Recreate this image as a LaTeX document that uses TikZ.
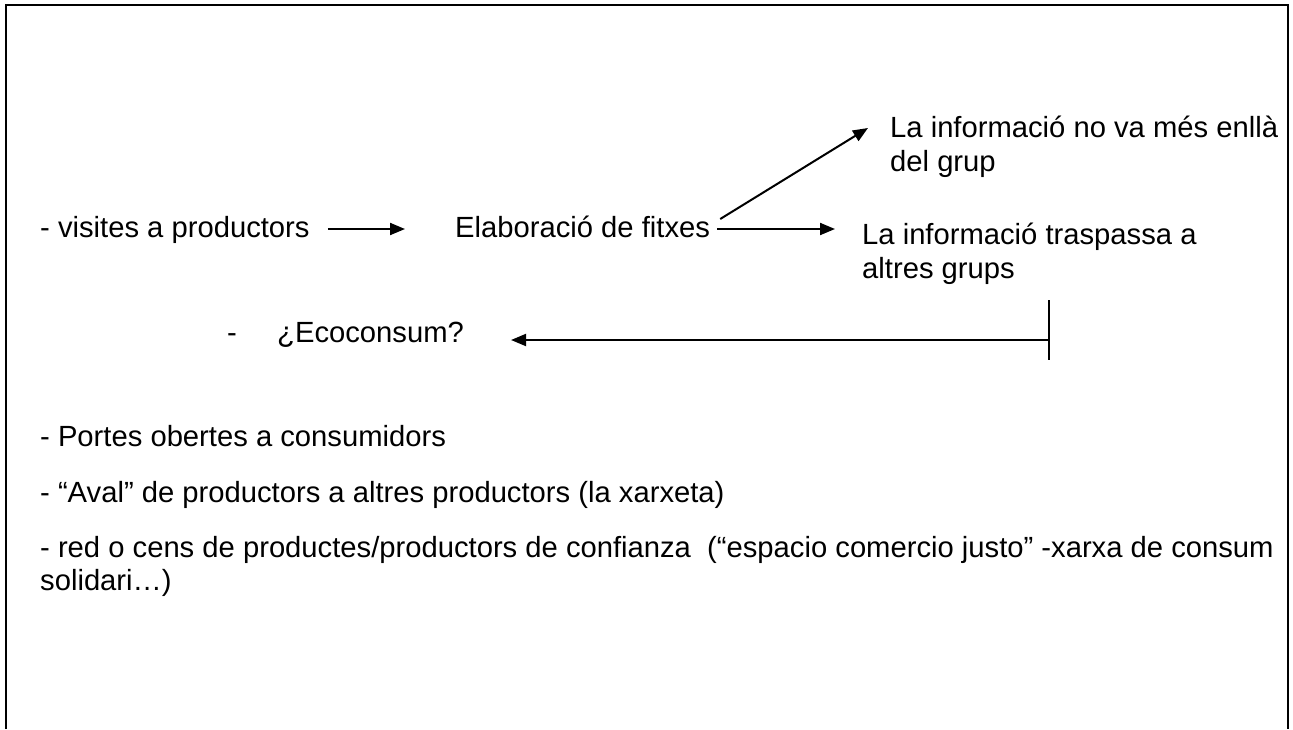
\documentclass[tikz,border=0pt]{standalone}
\usepackage{fontspec}
\setmainfont{Liberation Sans}
\usetikzlibrary{arrows.meta,positioning,calc}

\tikzset{
  txt/.style={anchor=base west, inner sep=0pt, font=\fontsize{29.2}{34}\selectfont},
  arr/.style={-{Triangle[length=15pt,width=12pt]}, line width=2pt},
}

\begin{document}
\begin{tikzpicture}[x=1pt,y=-1pt]
\useasboundingbox (0,0) rectangle (1293,729);

% frame, open at the bottom
\draw[line width=2.5pt] (6,729) -- (6,5) -- (1288,5) -- (1288,729);

\node[txt] (visites) at (40,237) {- visites a productors};
\node[txt] (elab) at (455,237) {Elaboració de fitxes};
\node[txt] (nova) at (890,137) {La informació no va més enllà};
\node[txt] (nova2) at (890,171) {del grup};
\node[txt] (trasp) at (862,244) {La informació traspassa a};
\node[txt] (trasp2) at (862,278) {altres grups};

\node[txt] (guio) at (227,342) {-};
\node[txt] (eco) at (277,342) {¿Ecoconsum?};

\node[txt] (portes) at (40,446) {- Portes obertes a consumidors};
\node[txt] (aval) at (40,502) {- “Aval” de productors a altres productors (la xarxeta)};
\node[txt] (red) at (40,557) {- red o cens de productes/productors de confianza \ (“espacio comercio justo” -xarxa de consum};
\node[txt] (red2) at (40,590) {solidari…)};

\draw[arr] ($(visites.base east)+(18,-8)$) -- ($(elab.base west)+(-50,-8)$);
\draw[arr] ($(elab.base east)+(7,-8)$) -- ($(trasp.base west)+(-27,-15)$);
\draw[arr] ($(elab.base east)+(10,-18)$) -- ($(nova.base west)+(-22,-9)$);

\coordinate (bar) at (1049,340);
\draw[line width=2pt] ($(bar)+(0,-40)$) -- ($(bar)+(0,20)$);
\draw[arr] (bar) -- ($(eco.base east)+(47,-2)$);

\end{tikzpicture}
\end{document}
